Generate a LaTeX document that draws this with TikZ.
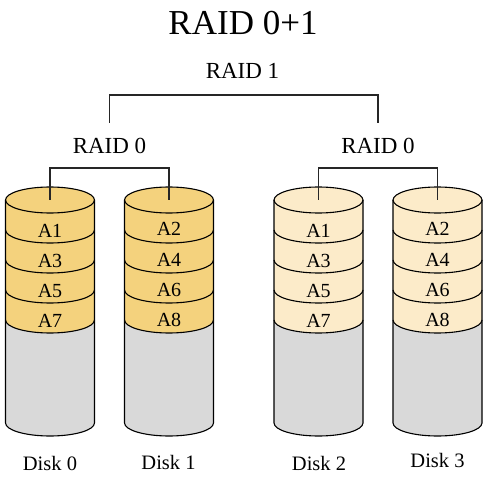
\documentclass[tikz,border=0pt]{standalone}
\usepackage{fontspec}
\setmainfont{Liberation Serif}
\definecolor{diskgold}{HTML}{F4D27D}
\definecolor{diskcream}{HTML}{FCEBC9}
\definecolor{diskgray}{HTML}{D9D9D9}
\newcommand\drawdisk[3]{%
  \fill[diskgray] ({#1-44.5},280) -- ({#1-44.5},57) arc[start angle=180,end angle=360,x radius=44.5,y radius=13] -- ({#1+44.5},280) -- cycle;
  \fill[#2] ({#1-44.5},280) -- ({#1-44.5},160) arc[start angle=180,end angle=360,x radius=44.5,y radius=13] -- ({#1+44.5},280) arc[start angle=0,end angle=180,x radius=44.5,y radius=13] -- cycle;
  \draw[diskline] ({#1-44.5},280) -- ({#1-44.5},57) arc[start angle=180,end angle=360,x radius=44.5,y radius=13] -- ({#1+44.5},280);
  \draw[diskline] (#1,280) ellipse[x radius=44.5,y radius=13];
  \foreach \yy in {250,220,190,160}{\draw[diskline] ({#1-44.5},\yy) arc[start angle=180,end angle=360,x radius=44.5,y radius=13];}
  \coordinate (#3) at (#1,280);
}
\begin{document}
\begin{tikzpicture}[x=1pt,y=1pt,
  diskline/.style={line width=1.1pt,black},
  bracket/.style={line width=1.1pt,black!85},
  lbl/.style={inner sep=0pt,anchor=base,font=\fontsize{20}{24}\selectfont},
  disklbl/.style={inner sep=0pt,anchor=base,font=\fontsize{20.5}{24}\selectfont},
  raidlbl/.style={inner sep=0pt,anchor=base,font=\fontsize{23}{27}\selectfont},
  titlelbl/.style={inner sep=0pt,anchor=base,font=\fontsize{35}{40}\selectfont}]
\useasboundingbox (0,0) rectangle (490,480);
\drawdisk{50}{diskgold}{d0}
\drawdisk{169}{diskgold}{d1}
\drawdisk{318.5}{diskcream}{d2}
\drawdisk{437.5}{diskcream}{d3}
% block labels
\node[lbl] (a1) at (50,243) {A1};
\node[lbl] (a3) at (50,213) {A3};
\node[lbl] (a5) at (50,183) {A5};
\node[lbl] (a7) at (50,153) {A7};
\node[lbl] (a2) at (169,244) {A2};
\node[lbl] (a4) at (169,214) {A4};
\node[lbl] (a6) at (169,184) {A6};
\node[lbl] (a8) at (169,154) {A8};
\node[lbl] (b1) at (318.5,243) {A1};
\node[lbl] (b3) at (318.5,213) {A3};
\node[lbl] (b5) at (318.5,183) {A5};
\node[lbl] (b7) at (318.5,153) {A7};
\node[lbl] (b2) at (437.5,244) {A2};
\node[lbl] (b4) at (437.5,214) {A4};
\node[lbl] (b6) at (437.5,184) {A6};
\node[lbl] (b8) at (437.5,154) {A8};
% disk names
\node[disklbl] (n0) at (50,10) {Disk 0};
\node[disklbl] (n1) at (168.5,11) {Disk 1};
\node[disklbl] (n2) at (319,10) {Disk 2};
\node[disklbl] (n3) at (437.5,13) {Disk 3};
% raid labels
\node[titlelbl] (title) at (243,445) {RAID 0+1};
\node[raidlbl] (raid1) at (242.5,401) {RAID 1};
\node[raidlbl] (raid0l) at (109.5,326) {RAID 0};
\node[raidlbl] (raid0r) at (378,326) {RAID 0};
% brackets
\draw[bracket] (d0) -- ++(0,32) -| (d1);
\draw[bracket] (d2) -- ++(0,32) -| (d3);
\coordinate (r0a) at (109.5,357);
\coordinate (r0b) at (378,357);
\draw[bracket] (r0a) -- ++(0,28) -| (r0b);
\end{tikzpicture}
\end{document}
